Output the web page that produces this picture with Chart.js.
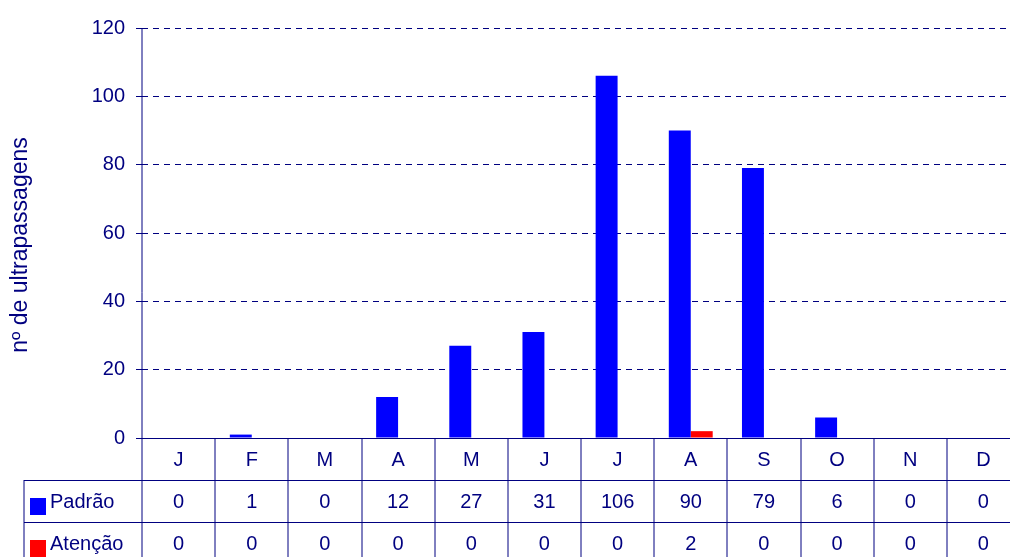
<!DOCTYPE html>
<html>
<head>
<meta charset="utf-8">
<script src="https://cdn.jsdelivr.net/npm/chart.js@4"></script>
<style>
  html, body { margin: 0; padding: 0; background: #fff; overflow: hidden; }
  #wrap { width: 1024px; height: 557px; }
</style>
</head>
<body>
<div id="wrap"><canvas id="chart" width="1024" height="557"></canvas></div>
<script>
// data
const months = ["J", "F", "M", "A", "M", "J", "J", "A", "S", "O", "N", "D"];
const padrao = [0, 1, 0, 12, 27, 31, 106, 90, 79, 6, 0, 0];
const atencao = [0, 0, 0, 0, 0, 0, 0, 2, 0, 0, 0, 0];
const seriesNames = ["Padrão", "Atenção"];
const seriesColors = ["#0000FF", "#FF0000"];
const yTitle = "nº de ultrapassagens";

const navy = "#000080";
const font = "Liberation Sans, Arial, sans-serif";

// draws the data table under the plot, the zero line and the axis title
const tablePlugin = {
  id: "dataTable",
  afterDraw(chart) {
    const ctx = chart.ctx;
    const { left, right, top, bottom } = chart.chartArea;
    const xs = chart.scales.x;
    const n = months.length;
    const cw = (right - left) / n;
    const rowH = 42;
    const H = chart.height;

    ctx.save();
    // vertical lines (y axis + category separators)
    ctx.strokeStyle = navy;
    ctx.lineWidth = 1;
    for (let i = 0; i <= n; i++) {
      const bx = Math.round(left + i * cw);
      ctx.beginPath();
      ctx.moveTo(bx, i === 0 ? top : bottom);
      ctx.lineTo(bx, H);
      ctx.stroke();
    }
    ctx.beginPath();
    ctx.moveTo(24, bottom + rowH);
    ctx.lineTo(24, H);
    ctx.stroke();

    // horizontal lines
    const hl = (y, x0) => {
      ctx.beginPath();
      ctx.moveTo(x0, Math.round(y) + 0.5);
      ctx.lineTo(right, Math.round(y) + 0.5);
      ctx.stroke();
    };
    hl(bottom, left - 6);
    hl(bottom + rowH, 24);
    hl(bottom + rowH * 2, 24);

    // texts
    ctx.fillStyle = navy;
    ctx.font = "20px " + font;
    ctx.textAlign = "center";
    ctx.textBaseline = "middle";
    const rows = [padrao, atencao];
    months.forEach((m, i) => {
      const cx = xs.getPixelForValue(i);
      ctx.fillText(m, cx, bottom + rowH / 2 + 1);
      rows.forEach((r, k) => {
        ctx.fillText(String(r[i]), cx, bottom + rowH * (k + 1.5) + 1);
      });
    });

    // legend keys
    ctx.textAlign = "left";
    seriesNames.forEach((name, k) => {
      const cy = bottom + rowH * (k + 1.5);
      ctx.fillStyle = seriesColors[k];
      ctx.fillRect(30, cy - 3, 16, 17);
      ctx.fillStyle = navy;
      ctx.fillText(name, 50, cy + 1);
    });

    // y axis title
    ctx.translate(21, 245);
    ctx.rotate(-Math.PI / 2);
    ctx.textAlign = "center";
    ctx.font = "23px " + font;
    ctx.fillText(yTitle, 0, 0);
    ctx.restore();
  }
};

new Chart(document.getElementById("chart"), {
  type: "bar",
  data: {
    labels: months,
    datasets: [
      { label: seriesNames[0], data: padrao, backgroundColor: seriesColors[0] },
      { label: seriesNames[1], data: atencao, backgroundColor: seriesColors[1] }
    ]
  },
  options: {
    responsive: false,
    animation: false,
    events: [],
    layout: { padding: { left: 0, right: 4, top: 28, bottom: 119 } },
    datasets: { bar: { categoryPercentage: 0.6, barPercentage: 1, borderWidth: 0 } },
    plugins: { legend: { display: false }, tooltip: { enabled: false } },
    scales: {
      x: { display: false, offset: true },
      y: {
        min: 0,
        max: 120,
        afterFit(scale) { scale.width = 142; },
        ticks: { stepSize: 20, color: navy, padding: 11, font: { family: font, size: 20 } },
        grid: { color: navy, tickLength: 6, tickColor: navy, lineWidth: 1 },
        border: { display: false, dash: [6, 5] }
      }
    }
  },
  plugins: [tablePlugin]
});
</script>
</body>
</html>
